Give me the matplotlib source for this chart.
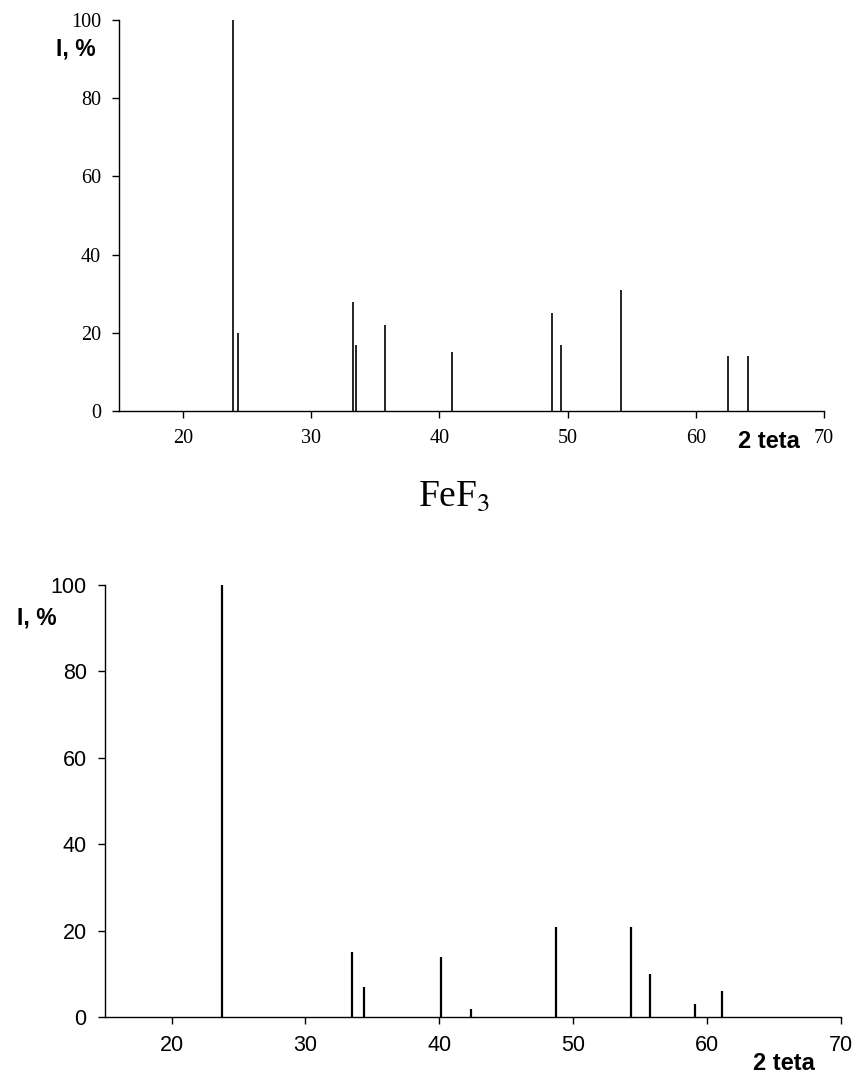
import matplotlib.pyplot as plt

# FeF3 reference pattern (top)
top_theta = [23.9, 24.25, 33.25, 33.5, 35.75, 40.95, 48.8, 49.5, 54.2, 62.5, 64.1]
top_int = [100, 20, 28, 17, 22, 15, 25, 17, 31, 14, 14]

# sample pattern (bottom)
bot_theta = [23.8, 33.45, 34.4, 40.15, 42.35, 48.75, 54.3, 55.75, 59.1, 61.1]
bot_int = [100, 15, 7, 14, 2, 21, 21, 10, 3, 6]

xticks = [20, 30, 40, 50, 60, 70]
yticks = [0, 20, 40, 60, 80, 100]

W, H = 856, 1075
fig = plt.figure(figsize=(W / 100, H / 100), dpi=100)


def px(x, y):
    return x / W, 1 - y / H


def style(ax, family, size, pad):
    ax.set_xlim(15, 70)
    ax.set_ylim(0, 100)
    ax.set_xticks(xticks)
    ax.set_yticks(yticks)
    for s in ['top', 'right']:
        ax.spines[s].set_visible(False)
    for s in ['left', 'bottom']:
        ax.spines[s].set_linewidth(1.0)
    ax.tick_params(direction='out', length=5, width=1.0, pad=pad)
    for lab in ax.get_xticklabels() + ax.get_yticklabels():
        lab.set_fontfamily(family)
        lab.set_fontsize(size)


# top panel
ax1 = fig.add_axes([119 / W, 1 - 411 / H, (824 - 119) / W, (411 - 20) / H])
ax1.vlines(top_theta, 0, top_int, color='black', linewidth=1.2)
style(ax1, 'Liberation Serif', 14.5, 8)

fig.text(*px(76, 49), 'I, %', family='Liberation Sans', weight='bold',
         fontsize=16.5, ha='center', va='center')
fig.text(*px(769, 441), '2 teta', family='Liberation Sans', weight='bold',
         fontsize=17, ha='center', va='center')
fig.text(*px(454, 497), r'FeF$_3$', family='Liberation Serif',
         fontsize=27, ha='center', va='center',
         math_fontfamily='stix')

# bottom panel
ax2 = fig.add_axes([104.7 / W, 1 - 1017.3 / H, (840.7 - 104.7) / W, (1017.3 - 585) / H])
ax2.vlines(bot_theta, 0, bot_int, color='black', linewidth=1.6)
style(ax2, 'Liberation Sans', 15.5, 8)

fig.text(*px(37, 618), 'I, %', family='Liberation Sans', weight='bold',
         fontsize=16.5, ha='center', va='center')
fig.text(*px(784, 1063), '2 teta', family='Liberation Sans', weight='bold',
         fontsize=17, ha='center', va='center')

plt.savefig('out.png', dpi=100)
